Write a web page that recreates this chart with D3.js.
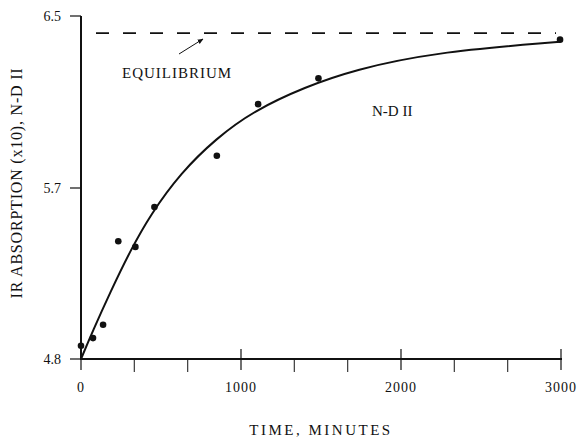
<!DOCTYPE html>
<html>
<head>
<meta charset="utf-8">
<script src="https://cdn.jsdelivr.net/npm/d3@7"></script>
<style>
  body { margin: 0; background: #fff; }
  text { font-family: "Liberation Serif", "DejaVu Serif", serif; fill: #111; }
</style>
</head>
<body>
<svg id="chart" width="580" height="437"></svg>
<script>
// measured points (minutes, absorption)
const times = [0, 75, 138, 233, 340, 459, 849, 1107, 1484, 2994];
const values = [4.87, 4.91, 4.98, 5.42, 5.39, 5.60, 5.85, 6.09, 6.21, 6.39];

// fitted curve
const fitTimes = [0, 75, 182, 308, 434, 623, 843, 1082, 1400, 1711, 2195, 2994];
const fitValues = [4.80, 4.95, 5.15, 5.37, 5.56, 5.77, 5.93, 6.06, 6.17, 6.25, 6.33, 6.38];

const equilibrium = 6.42;

const xTicks = [0, 1000, 2000, 3000];
const xMinor = [333, 667, 1333, 1667, 2333, 2667];
const yTicks = [4.8, 5.7, 6.5];

const svg = d3.select("#chart");

const x = d3.scaleLinear().domain([0, 3000]).range([81, 561]);
// the printed axis is not evenly spaced, so map each labelled tick to its spot
const y = d3.scaleLinear().domain([4.8, 5.7, 6.5]).range([359, 188, 16]);

// x axis
const xAxis = svg.append("g").attr("transform", "translate(0,359)");
xAxis.append("line")
    .attr("x1", 80).attr("x2", 562)
    .attr("stroke", "#111").attr("stroke-width", 2);
xAxis.selectAll(".maj").data(xTicks).enter().append("line")
    .attr("x1", d => x(d)).attr("x2", d => x(d))
    .attr("y1", d => d == 0 ? 0 : -10).attr("y2", 11)
    .attr("stroke", "#111").attr("stroke-width", 1.2);
xAxis.selectAll(".min").data(xMinor).enter().append("line")
    .attr("x1", d => x(d)).attr("x2", d => x(d))
    .attr("y1", 0).attr("y2", 13)
    .attr("stroke", "#111").attr("stroke-width", 1);
xAxis.selectAll("text").data(xTicks).enter().append("text")
    .attr("x", d => x(d)).attr("y", 33)
    .attr("text-anchor", "middle")
    .style("font-size", "14px").style("letter-spacing", "1px")
    .text(d => d);

// y axis
const yAxis = svg.append("g").attr("transform", "translate(81,0)");
yAxis.append("line")
    .attr("y1", 16).attr("y2", 360)
    .attr("stroke", "#111").attr("stroke-width", 2);
yAxis.selectAll(".tk").data(yTicks).enter().append("line")
    .attr("x1", -11).attr("x2", 0)
    .attr("y1", d => y(d)).attr("y2", d => y(d))
    .attr("stroke", "#111").attr("stroke-width", 1.2);
yAxis.selectAll("text").data(yTicks).enter().append("text")
    .attr("x", -20).attr("y", d => y(d) + 5)
    .attr("text-anchor", "end")
    .style("font-size", "14px")
    .text(d => d.toFixed(1));

// axis titles
svg.append("text")
    .attr("x", 321).attr("y", 435)
    .attr("text-anchor", "middle")
    .style("font-size", "15px").style("letter-spacing", "2.5px")
    .text("TIME, MINUTES");

svg.append("text")
    .attr("transform", "translate(22,183) rotate(-90)")
    .attr("text-anchor", "middle")
    .style("font-size", "16px").style("letter-spacing", "0.8px")
    .text("IR ABSORPTION (x10), N-D II");

// equilibrium line
svg.append("line")
    .attr("x1", 96).attr("x2", 556)
    .attr("y1", y(equilibrium)).attr("y2", y(equilibrium))
    .attr("stroke", "#111").attr("stroke-width", 1.8)
    .attr("stroke-dasharray", "13,14");

svg.append("defs").append("marker")
    .attr("id", "arr").attr("viewBox", "0 0 10 10")
    .attr("refX", 9).attr("refY", 5)
    .attr("markerWidth", 6).attr("markerHeight", 6)
    .attr("orient", "auto")
    .append("path").attr("d", "M0,1 L10,5 L0,9 z").attr("fill", "#111");

svg.append("line")
    .attr("x1", 179).attr("y1", 54).attr("x2", 203).attr("y2", 39)
    .attr("stroke", "#111").attr("stroke-width", 1)
    .attr("marker-end", "url(#arr)");

svg.append("text")
    .attr("x", 122).attr("y", 78)
    .style("font-size", "15px").style("letter-spacing", "1px")
    .text("EQUILIBRIUM");

svg.append("text")
    .attr("x", 372).attr("y", 116)
    .style("font-size", "15px")
    .text("N-D II");

// fitted curve
const line = d3.line()
    .x((d, i) => x(fitTimes[i]))
    .y(d => y(d))
    .curve(d3.curveBasis);

svg.append("path")
    .datum(fitValues)
    .attr("d", line)
    .attr("fill", "none")
    .attr("stroke", "#111")
    .attr("stroke-width", 2);

// data points
svg.selectAll(".pt").data(values).enter().append("circle")
    .attr("cx", (d, i) => x(times[i]))
    .attr("cy", d => y(d))
    .attr("r", 3.3)
    .attr("fill", "#111");
</script>
</body>
</html>
